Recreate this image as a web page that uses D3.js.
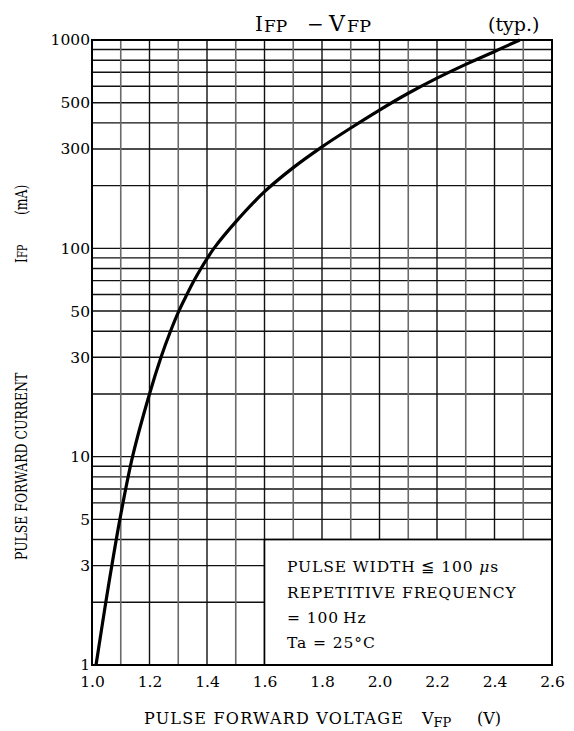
<!DOCTYPE html>
<html>
<head>
<meta charset="utf-8">
<script src="https://cdn.jsdelivr.net/npm/d3@7"></script>
<style>
  html, body { margin: 0; padding: 0; background: #fff; }
  svg { display: block; }
  text { font-family: "DejaVu Serif", "Liberation Serif", serif; fill: #000; }
</style>
</head>
<body>
<svg id="chart" width="574" height="731"></svg>
<script>
// Typical pulse forward current vs. pulse forward voltage
const voltage = [1.014, 1.048, 1.069, 1.097, 1.141, 1.200, 1.240, 1.273, 1.302, 1.330,
                 1.355, 1.379, 1.402, 1.424, 1.500, 1.600, 1.700, 1.800, 1.900, 2.000,
                 2.100, 2.200, 2.300, 2.400, 2.488];
const current = [1, 2, 3, 5, 10, 20, 30, 40, 50, 60,
                 70, 80, 90, 100, 134, 187, 244, 307, 378, 461,
                 555, 656, 764, 881, 1000];

const xTickValues = [1.0, 1.2, 1.4, 1.6, 1.8, 2.0, 2.2, 2.4, 2.6];
const yTickValues = [1, 3, 5, 10, 30, 50, 100, 300, 500, 1000];
const xGridValues = d3.range(0, 17).map(i => +(1.0 + i * 0.1).toFixed(1));
const yGridValues = [1, 10, 100].flatMap(d => d3.range(1, 10).map(k => k * d)).concat([1000]);

const noteLines = ["PULSE WIDTH \u2266 100 ", "REPETITIVE FREQUENCY", "= 100\u2009Hz", "Ta = 25\u00B0C"];

const svg = d3.select("#chart");
const plotLeft = 92, plotRight = 552, plotTop = 40, plotBottom = 665;

const x = d3.scaleLinear().domain([1.0, 2.6]).range([plotLeft, plotRight]);
const y = d3.scaleLog().domain([1, 1000]).range([plotBottom, plotTop]);

// grid: horizontal lines
svg.append("g").selectAll("line").data(yGridValues).join("line")
  .attr("x1", plotLeft).attr("x2", plotRight)
  .attr("y1", d => y(d)).attr("y2", d => y(d))
  .attr("stroke", "#111").attr("stroke-width", 1.4);

// grid: vertical lines, odd tenths drawn lighter
svg.append("g").selectAll("line").data(xGridValues).join("line")
  .attr("x1", d => x(d)).attr("x2", d => x(d))
  .attr("y1", plotTop).attr("y2", plotBottom)
  .attr("stroke", (d, i) => i % 2 ? "#6a6a6a" : "#111")
  .attr("stroke-width", (d, i) => i % 2 ? 1.6 : 1.4);

// curve
const line = d3.line()
  .x((d, i) => x(voltage[i]))
  .y(d => y(d))
  .curve(d3.curveCatmullRom.alpha(0.5));
svg.append("path").datum(current)
  .attr("d", line)
  .attr("fill", "none")
  .attr("stroke", "#000")
  .attr("stroke-width", 3.2)
  .attr("stroke-linecap", "butt");

// condition box
const box = svg.append("g");
box.append("rect")
  .attr("x", x(1.6)).attr("y", y(4))
  .attr("width", x(2.6) - x(1.6)).attr("height", y(1) - y(4))
  .attr("fill", "#fff").attr("stroke", "#000").attr("stroke-width", 1.6);
const noteY = [572, 597.5, 622.5, 647.5];
box.selectAll("text").data(noteLines).join("text")
  .attr("x", 287).attr("y", (d, i) => noteY[i])
  .attr("xml:space", "preserve")
  .style("font-size", "15.5px")
  .style("letter-spacing", "0.9px")
  .each(function (d, i) {
    const t = d3.select(this);
    t.append("tspan").text(d);
    if (i === 0) {
      t.append("tspan").style("font-style", "italic").text("\u03BC");
      t.append("tspan").text("s");
    }
  });

// frame
svg.append("rect")
  .attr("x", plotLeft).attr("y", plotTop)
  .attr("width", plotRight - plotLeft).attr("height", plotBottom - plotTop)
  .attr("fill", "none").attr("stroke", "#000").attr("stroke-width", 2);

// axes (labels only)
const yAxis = svg.append("g")
  .attr("transform", `translate(${plotLeft - 2},0)`)
  .call(d3.axisLeft(y).tickValues(yTickValues).tickFormat(d3.format("d")).tickSize(0).tickPadding(0));
const xAxis = svg.append("g")
  .attr("transform", `translate(0,${plotBottom + 7})`)
  .call(d3.axisBottom(x).tickValues(xTickValues).tickFormat(d3.format(".1f")).tickSize(0).tickPadding(0));
[yAxis, xAxis].forEach(a => {
  a.select(".domain").remove();
  a.selectAll("text").attr("fill", "#000")
    .style("font-family", "'DejaVu Serif', serif").style("font-size", "15.5px");
});
xAxis.selectAll("text").attr("dy", "0.95em");

// title
const title = svg.append("g").style("font-size", "20px");
title.append("text").attr("x", 255).attr("y", 31).text("I");
title.append("text").attr("x", 264).attr("y", 31.5).style("font-size", "17px").text("FP");
title.append("text").attr("x", 307).attr("y", 31).text("\u2212");
title.append("text").attr("x", 329).attr("y", 31).style("font-size", "22px").text("V");
title.append("text").attr("x", 347).attr("y", 31.5).style("font-size", "17.5px").text("FP");

svg.append("text").attr("x", 488).attr("y", 31).style("font-size", "19px").text("(typ.)");

// x axis title
const xt = svg.append("text").attr("x", 144).attr("y", 724)
  .attr("xml:space", "preserve").style("font-size", "16px");
xt.append("tspan").text("PULSE FORWARD VOLTAGE").attr("textLength", 259).attr("lengthAdjust", "spacing");
xt.append("tspan").attr("x", 422).text("V");
xt.append("tspan").attr("dy", 3).style("font-size", "13px").text("FP");
xt.append("tspan").attr("x", 477).attr("dy", -3).text("(V)");

// y axis title (set slightly condensed along its run)
const yScaleRun = 0.73;
const yt = svg.append("text")
  .attr("transform", `translate(27,560) rotate(-90) scale(${yScaleRun},1)`)
  .attr("xml:space", "preserve").style("font-size", "17px");
yt.append("tspan").text("PULSE FORWARD CURRENT");
yt.append("tspan").attr("x", 297 / yScaleRun).text("I");
yt.append("tspan").style("font-size", "13.5px").text("FP");
yt.append("tspan").attr("x", 345 / yScaleRun).text("(mA)");
</script>
</body>
</html>
